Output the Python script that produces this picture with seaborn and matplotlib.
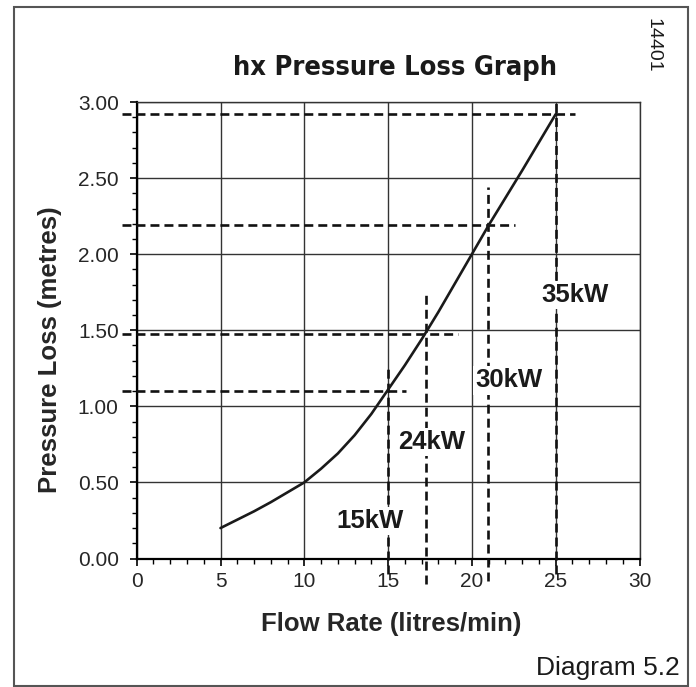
import seaborn as sns
import pandas as pd
import matplotlib.pyplot as plt
import matplotlib.font_manager as fm
from matplotlib import patches
from matplotlib.ticker import MultipleLocator

sns.set_style("white")
plt.rcParams['font.family'] = ['Liberation Sans', 'DejaVu Sans']

# pressure loss curve
flow = [5, 6, 7, 8, 9, 10, 11, 12, 13, 14, 15, 16, 17, 18, 19, 20, 21, 22, 23, 24, 25]
loss = [0.20, 0.255, 0.31, 0.37, 0.435, 0.50, 0.59, 0.69, 0.81, 0.95, 1.11,
        1.27, 1.44, 1.62, 1.81, 2.00, 2.19, 2.37, 2.55, 2.735, 2.92]

# boiler outputs and their operating points
kw_labels = ['15kW', '24kW', '30kW', '35kW']
kw_flow = [15, 17.25, 20.95, 25]
kw_loss = [1.10, 1.475, 2.19, 2.92]

df = pd.DataFrame({'flow': flow, 'loss': loss})

fig = plt.figure(figsize=(6.96, 6.87), dpi=100)
ax = fig.add_axes([136.7 / 696, (687 - 558.5) / 687, (639.5 - 136.7) / 696, (558.5 - 102) / 687])

sns.lineplot(data=df, x='flow', y='loss', ax=ax, color='#1a1a1a', lw=1.9, zorder=4)

ax.set_xlim(0, 30)
ax.set_ylim(0, 3)
ax.xaxis.set_major_locator(MultipleLocator(5))
ax.xaxis.set_minor_locator(MultipleLocator(1))
ax.yaxis.set_major_locator(MultipleLocator(0.5))
ax.yaxis.set_minor_locator(MultipleLocator(0.1))
ax.yaxis.set_major_formatter(lambda v, p: f'{v:.2f}')
ax.grid(True, which='major', color='#333333', lw=1.0)
ax.tick_params(which='major', direction='out', length=5, width=1.2, color='black',
               labelsize=15, bottom=True, left=True)
ax.tick_params(which='minor', direction='out', length=3.6, width=1, color='black',
               bottom=True, left=True)
ax.tick_params(axis='y', pad=8)
ax.tick_params(axis='x', pad=5)
for side in ['left', 'bottom']:
    ax.spines[side].set_color('black')
    ax.spines[side].set_linewidth(1.6)
for side in ['top', 'right']:
    ax.spines[side].set_color('#333333')
    ax.spines[side].set_linewidth(1.0)

ax.set_xlabel('Flow Rate (litres/min)', fontsize=18.5, fontweight='bold')
ax.set_ylabel('Pressure Loss (metres)', fontsize=18.5, fontweight='bold')
ax.xaxis.set_label_coords(0.507, -0.117)
ax.yaxis.set_label_coords(-0.149, 0.457)

# dashed guide lines
dash = dict(color='#111111', lw=1.9, dashes=(3.4, 1.9), clip_on=False, zorder=3)
h_end = [16.07, 19.15, 22.6, 26.15]
v_top = [1.27, 1.74, 2.44, 3.0]
v_bot = [-0.1, -0.17, -0.15, -0.1]
for fx, ly, he, vt, vb in zip(kw_flow, kw_loss, h_end, v_top, v_bot):
    ax.plot([-0.9, he], [ly, ly], **dash)
    ax.plot([fx, fx], [vb, vt], **dash)

lab_x = [13.9, 17.6, 22.2, 26.15]
lab_y = [0.245, 0.765, 1.17, 1.73]
for t, x, y in zip(kw_labels, lab_x, lab_y):
    ax.text(x, y, t, fontsize=18.5, fontweight='bold', color='#1a1a1a', ha='center', va='center',
            zorder=5, bbox=dict(facecolor='white', edgecolor='none', pad=1.5))

# title in a narrow bold face if one is installed
narrow = [f for f in fm.fontManager.ttflist
          if 'condensed' in str(f.stretch) or 'Narrow' in f.name or 'Condensed' in f.name]
if narrow:
    title_font = fm.FontProperties(family=narrow[0].name, stretch='condensed', weight='bold')
else:
    title_font = fm.FontProperties(family='Roboto', weight='bold')
title = fig.text(395 / 696, 1 - 75 / 687, 'hx Pressure Loss Graph', ha='center', va='baseline',
                 fontproperties=title_font, color='#1a1a1a')
title.set_fontsize(22)
renderer = fig.canvas.get_renderer()
w = title.get_window_extent(renderer).width
title.set_fontsize(min(23, 22 * (286 / w) ** 0.5))

fig.text(652.7 / 696, 1 - 45 / 687, '14401', rotation=270, ha='center', va='center',
         fontsize=14, color='#1a1a1a')
fig.text(680 / 696, 1 - 675 / 687, 'Diagram 5.2', ha='right', va='baseline',
         fontsize=19, color='#1a1a1a')

fig.add_artist(patches.Rectangle((14 / 696, 1 / 687), (687.7 - 14) / 696, (686 - 6.7) / 687,
                                 transform=fig.transFigure, fill=False,
                                 edgecolor='#555555', lw=1.5))

plt.savefig('out.png', dpi=100)
